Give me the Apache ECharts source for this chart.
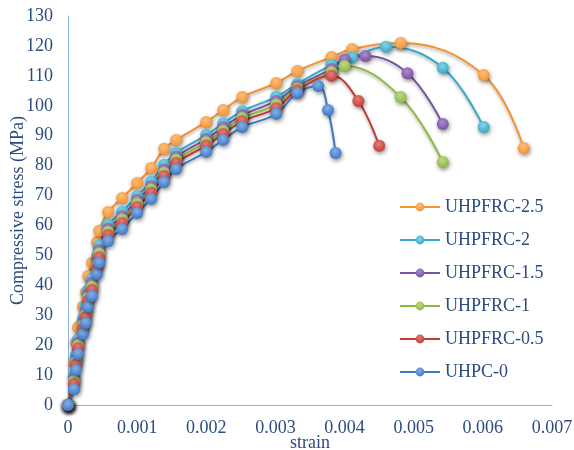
<!DOCTYPE html>
<html>
<head>
<meta charset="utf-8">
<script src="https://cdn.jsdelivr.net/npm/echarts@6/dist/echarts.min.js"></script>
<style>html,body{margin:0;padding:0;background:#fff;}#c{width:574px;height:450px;}</style>
</head>
<body>
<div id="c"></div>
<script>
// Shared strain points of the ascending branch
var strainShared = [0, 0.000087, 0.000116, 0.000145, 0.000217, 0.00026, 0.00029, 0.000347, 0.00042, 0.000449, 0.000579, 0.000782, 0.000999, 0.001202, 0.00139, 0.001564, 0.001998, 0.002244, 0.002519, 0.003011, 0.003315];

var stress25 = [0, 14, 21, 26, 33, 37.8, 43.1, 47.5, 54.5, 58.2, 64.5, 69.2, 74.2, 79.2, 85.6, 88.6, 94.6, 98.6, 102.9, 107.6, 111.6];
var stress20 = [0, 10.1, 16.8, 22.0, 28.9, 32.9, 38.3, 42.3, 49.6, 53.2, 60.2, 64.5, 69.8, 74.6, 80.3, 84.3, 90.2, 94.1, 98.2, 103.0, 107.3];
var stress15 = [0, 9.0, 15.5, 20.8, 27.6, 31.5, 37.0, 40.8, 48.0, 51.8, 58.9, 63.1, 68.5, 73.1, 78.7, 83.0, 88.9, 92.8, 96.9, 101.6, 106.5];
var stress10 = [0, 8.0, 14.6, 19.9, 26.7, 30.5, 35.9, 39.6, 46.9, 50.6, 57.9, 62.0, 67.3, 72.0, 77.6, 82.0, 87.8, 91.6, 95.9, 100.4, 105.8];
var stress05 = [0, 7.0, 13.6, 19.0, 25.6, 29.4, 34.8, 38.4, 45.8, 49.4, 56.8, 60.8, 66.2, 70.9, 76.5, 80.9, 86.7, 90.6, 94.8, 99.2, 105.2];
var stress00 = [0, 5.3, 11.7, 17.0, 23.7, 27.4, 32.8, 36.4, 43.8, 47.5, 54.8, 58.8, 64.2, 68.9, 74.5, 78.9, 84.6, 88.6, 92.9, 97.3, 104.3];

// Peak / descending branch of each series
var tailStrain25 = [0.00381, 0.00411, 0.00481, 0.00601, 0.00659];
var tailStress25 = [116.3, 119.0, 121.0, 110.3, 85.9];
var tailStrain20 = [0.00381, 0.00411, 0.0046, 0.00542, 0.00601];
var tailStress20 = [113.6, 116.1, 119.7, 112.7, 92.9];
var tailStrain15 = [0.00381, 0.004, 0.0043, 0.00491, 0.00542];
var tailStress15 = [112.3, 115.5, 116.6, 110.9, 93.9];
var tailStrain10 = [0.00381, 0.004, 0.00481, 0.00542];
var tailStress10 = [111.3, 113.3, 102.9, 81.2];
var tailStrain05 = [0.00381, 0.0042, 0.0045];
var tailStress05 = [110.0, 101.6, 86.6];
var tailStrain00 = [0.00362, 0.00376, 0.00387];
var tailStress00 = [106.6, 98.6, 84.2];

var seriesNames = ['UHPFRC-2.5', 'UHPFRC-2', 'UHPFRC-1.5', 'UHPFRC-1', 'UHPFRC-0.5', 'UHPC-0'];
var xTicks = [0, 0.001, 0.002, 0.003, 0.004, 0.005, 0.006, 0.007];
var yTicks = [0, 10, 20, 30, 40, 50, 60, 70, 80, 90, 100, 110, 120, 130];

var colors = ['#F7922F', '#35A9C9', '#7A52A3', '#8DBA3E', '#C23B36', '#3B78C6'];
var lightColors = ['#FBC07E', '#86D3E6', '#A88BC9', '#BCD98A', '#E07F7A', '#86AEE3'];

var stressSets = [stress25, stress20, stress15, stress10, stress05, stress00];
var tailStrains = [tailStrain25, tailStrain20, tailStrain15, tailStrain10, tailStrain05, tailStrain00];
var tailStresses = [tailStress25, tailStress20, tailStress15, tailStress10, tailStress05, tailStress00];

function pairs(i) {
  var d = [];
  for (var k = 0; k < strainShared.length; k++) d.push([strainShared[k], stressSets[i][k]]);
  for (var m = 0; m < tailStrains[i].length; m++) d.push([tailStrains[i][m], tailStresses[i][m]]);
  return d;
}

var font = 'Liberation Serif';
var txt = '#2B4C7E';
var series = seriesNames.map(function (n, i) {
  return {
    name: n,
    type: 'line',
    data: pairs(i),
    smooth: 0.4,
    symbol: 'circle',
    symbolSize: 12,
    lineStyle: { width: 2, color: colors[i], shadowColor: 'rgba(0,0,0,0.3)', shadowBlur: 3, shadowOffsetY: 2 },
    itemStyle: {
      color: {
        type: 'radial', x: 0.45, y: 0.35, r: 0.65,
        colorStops: [{ offset: 0, color: lightColors[i] }, { offset: 1, color: colors[i] }]
      },
      borderWidth: 0,
      shadowColor: 'rgba(0,0,0,0.45)', shadowBlur: 4, shadowOffsetX: 1, shadowOffsetY: 2
    },
    emphasis: { disabled: true },
    animation: false
  };
});

var chart = echarts.init(document.getElementById('c'));
chart.setOption({
  backgroundColor: '#fff',
  color: colors,
  animation: false,
  grid: { left: 68, right: 22, top: 16, bottom: 45, containLabel: false, outerBoundsMode: 'none' },
  legend: {
    orient: 'vertical',
    left: 399,
    top: 198,
    padding: 0,
    itemWidth: 40,
    itemHeight: 11,
    itemGap: 15,
    data: seriesNames,
    textStyle: { fontFamily: font, fontSize: 18, color: txt }
  },
  xAxis: {
    type: 'value',
    min: xTicks[0],
    max: xTicks[xTicks.length - 1],
    interval: 0.001,
    name: 'strain',
    nameLocation: 'middle',
    nameGap: 29,
    nameMoveOverlap: false,
    nameTextStyle: { fontFamily: font, fontSize: 18, color: txt },
    axisLine: { lineStyle: { color: '#8DB3E2', width: 1 } },
    axisTick: { show: false },
    splitLine: { show: false },
    axisLabel: { fontFamily: font, fontSize: 18, color: txt, margin: 14,
      formatter: function (v) { return String(+v.toFixed(3)); } }
  },
  yAxis: {
    type: 'value',
    min: yTicks[0],
    max: yTicks[yTicks.length - 1],
    interval: 10,
    name: 'Compressive stress (MPa)',
    nameLocation: 'middle',
    nameGap: 41,
    nameMoveOverlap: false,
    nameTextStyle: { fontFamily: font, fontSize: 18, color: txt },
    axisLine: { show: true, lineStyle: { color: '#8DB3E2', width: 1 } },
    axisTick: { show: false },
    splitLine: { show: false },
    axisLabel: { fontFamily: font, fontSize: 18, color: txt, margin: 15 }
  },
  series: series
});
</script>
</body>
</html>
